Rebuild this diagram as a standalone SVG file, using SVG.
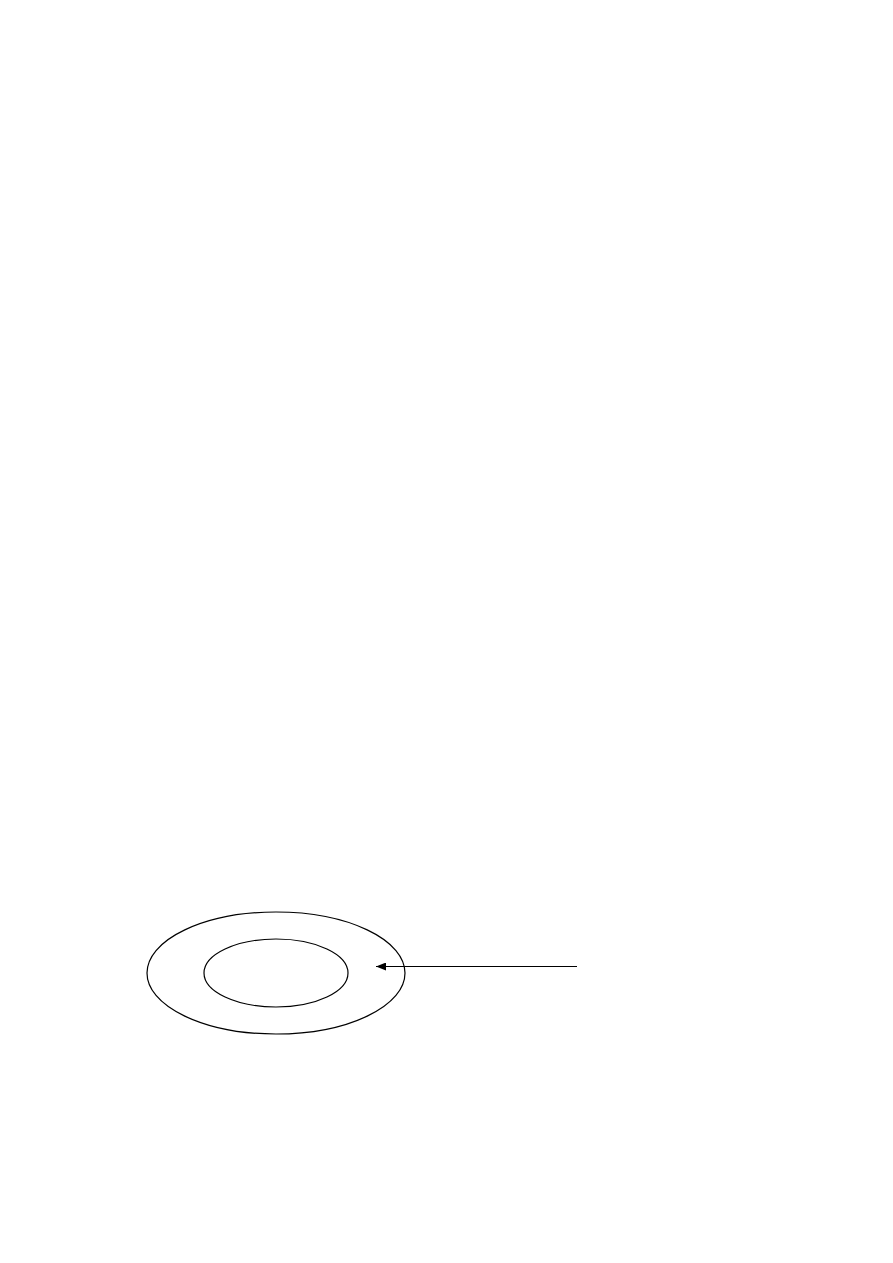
<svg xmlns="http://www.w3.org/2000/svg" width="893" height="1263" viewBox="0 0 893 1263">
<style>
.shape{fill:none;stroke:#000;stroke-width:1.2}
.conn{fill:none;stroke:#000;stroke-width:1.2}
</style>
<defs>
<marker id="arrow" markerUnits="userSpaceOnUse" markerWidth="10" markerHeight="8" refX="10" refY="4" orient="auto">
<path d="M0,0 L10,4 L0,8 Z" fill="#000"/>
</marker>
</defs>
<rect width="893" height="1263" fill="#fff"/>
<g id="outer-ellipse"><ellipse class="shape" cx="276" cy="973" rx="129" ry="61"/></g>
<g id="inner-ellipse"><ellipse class="shape" cx="276" cy="973" rx="72" ry="34"/></g>
<g id="connectors"><line class="conn" x1="577" y1="966.5" x2="376" y2="966.5" marker-end="url(#arrow)"/></g>
</svg>
